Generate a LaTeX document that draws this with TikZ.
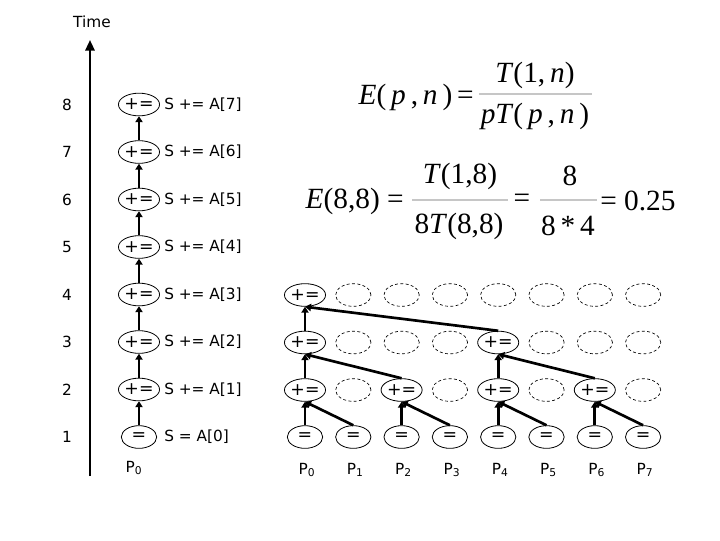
\documentclass[tikz,border=0pt]{standalone}
\usepackage{fontspec}
\setmainfont{DejaVu Sans}
\newfontfamily\tms{Liberation Serif}
\usetikzlibrary{shapes.geometric,arrows.meta}
\begin{document}
\begin{tikzpicture}[x=0.75pt,y=-0.75pt,
  lbl/.style={font=\fontsize{11.5}{13}\selectfont, inner sep=0pt},
  op/.style={ellipse, draw, line width=0.6pt, minimum width=26.5pt, minimum height=17pt, inner sep=0pt, font=\fontsize{13}{14}\selectfont},
  emp/.style={ellipse, draw, dash pattern=on 2.2pt off 1.8pt, line width=0.5pt, minimum width=26.5pt, minimum height=17pt, inner sep=0pt},
  arr/.style={line width=2pt, -{Triangle[length=4.5pt,width=5.5pt]}},
  axis/.style={line width=1.6pt, -{Triangle[length=8pt,width=7pt]}},
  frm/.style={font=\tms\fontsize{22}{26}\selectfont, inner sep=0pt},
  rule/.style={gray!45, line width=1pt}]
\path[use as bounding box] (0,0) rectangle (720,540);

% time axis
\node[lbl] (time) at (92,22) {Time};
\coordinate (ax0) at (90,476);
\coordinate (ax1) at (90,40);
\draw[axis] (ax0) -- (ax1);

% left column (P0 alone)
\foreach \k in {1,...,8} {
  \pgfmathsetmacro{\yy}{437-47.5*(\k-1)}
  \node[lbl] (n\k) at (67,\yy) {\k};
}
\node[op] (L1) at (139,437) {=};
\foreach \k in {2,...,8} {
  \pgfmathsetmacro{\yy}{437-47.5*(\k-1)}
  \node[op] (L\k) at (139,\yy) {+=};
}
\node[lbl, anchor=west] (s1) at (164,437) {S = A[0]};
\foreach \k [evaluate=\k as \j using int(\k-1)] in {2,...,8} {
  \pgfmathsetmacro{\yy}{437-47.5*(\k-1)}
  \node[lbl, anchor=west] (s\k) at (164,\yy) {S += A[\j]};
}
\foreach \k [evaluate=\k as \m using int(\k+1)] in {1,...,7} {
  \draw[arr] (L\k.north) -- (L\m.south);
}
\node[lbl] (p0L) at (134,468) {P\textsubscript{0}};

% right grid
\foreach \c in {0,...,7} {
  \pgfmathsetmacro{\xx}{305+48.3*\c}
  \node[op] (R1\c) at (\xx,437) {=};
  \node[lbl] (P\c) at (\xx+2,470) {P\textsubscript{\c}};
}
\foreach \c in {0,2,4,6} {\node[op] (R2\c) at (305+48.3*\c,390) {+=};}
\foreach \c in {1,3,5,7} {\node[emp] (R2\c) at (305+48.3*\c,390) {};}
\foreach \c in {0,4} {\node[op] (R3\c) at (305+48.3*\c,342.5) {+=};}
\foreach \c in {1,2,3,5,6,7} {\node[emp] (R3\c) at (305+48.3*\c,342.5) {};}
\node[op] (R40) at (305,295) {+=};
\foreach \c in {1,...,7} {\node[emp] (R4\c) at (305+48.3*\c,295) {};}

% reduction arrows
\foreach \s/\t in {0/0,1/0,2/2,3/2,4/4,5/4,6/6,7/6} {
  \draw[arr] (R1\s.north) -- (R2\t.south);
}
\foreach \s/\t in {0/0,2/0,4/4,6/4} {
  \draw[arr] (R2\s.north) -- (R3\t.south);
}
\foreach \s/\t in {0/0,4/0} {
  \draw[arr] (R3\s.north) -- (R4\t.south);
}

% formula 1
\node[frm, anchor=east] (e1) at (474,97) {\textit{E}(\,\textit{p}\,,\,\textit{n}\,)\,=};
\node[frm] (n1) at (535,75) {\textit{T}(1,\,\textit{n})};
\node[frm] (d1) at (535,116) {\textit{pT}(\,\textit{p}\,,\,\textit{n}\,)};
\draw[rule] (479,94) -- (592,94);

% formula 2
\node[frm, anchor=east] (e2) at (404,201) {\textit{E}(8,8) =};
\node[frm] (n2) at (460,176) {\textit{T}(1,8)};
\node[frm] (d2) at (459,226) {8\textit{T}(8,8)};
\draw[rule] (412,200) -- (508,200);
\node[frm] (eq2) at (522,201) {=};
\node[frm] (n3) at (570,176) {8};
\node[frm] (d3) at (568,226) {8\,*\,4};
\draw[rule] (540,200) -- (597,200);
\node[frm, anchor=west] (r2) at (600,201) {= 0.25};
\end{tikzpicture}
\end{document}
